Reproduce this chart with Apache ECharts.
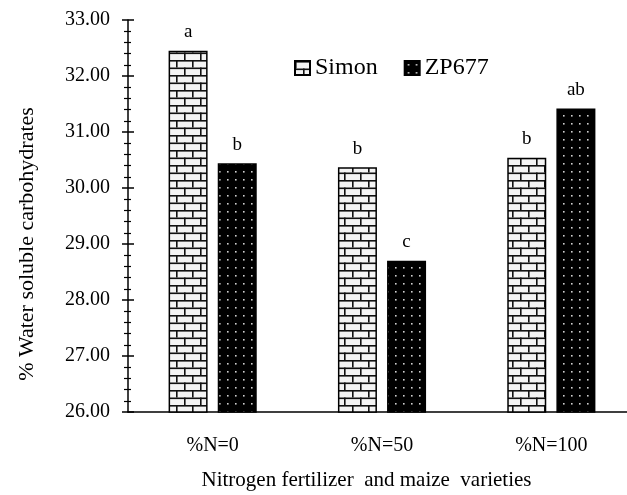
<!DOCTYPE html>
<html>
<head>
<meta charset="utf-8">
<script src="https://cdn.jsdelivr.net/npm/echarts@6/dist/echarts.min.js"></script>
<style>
html,body{margin:0;padding:0;background:#fff;}
#chart{width:627px;height:495px;}
</style>
</head>
<body>
<div id="chart"></div>
<script>
var categories = ['%N=0', '%N=50', '%N=100'];
var seriesNames = ['Simon', 'ZP677'];
var simonValues = [32.45, 30.37, 30.54];
var zpValues = [30.44, 28.70, 31.42];
var simonLetters = ['a', 'b', 'b'];
var zpLetters = ['b', 'c', 'ab'];
var yTicks = ['26.00','27.00','28.00','29.00','30.00','31.00','32.00','33.00'];

function brickPattern() {
  var c = document.createElement('canvas');
  c.width = 16; c.height = 15;
  var g = c.getContext('2d');
  g.fillStyle = '#f4f4f4';
  g.fillRect(0, 0, 16, 15);
  g.fillStyle = '#111';
  g.fillRect(0, 0, 16, 1.6);
  g.fillRect(0, 7.5, 16, 1.6);
  g.fillRect(0, 0, 1.6, 7.5);
  g.fillRect(8, 7.5, 1.6, 7.5);
  return c;
}
function dotPattern() {
  var c = document.createElement('canvas');
  c.width = 8; c.height = 8;
  var g = c.getContext('2d');
  g.fillStyle = '#000';
  g.fillRect(0, 0, 8, 8);
  g.fillStyle = '#cfcfcf';
  g.fillRect(3, 3, 1.6, 1.6);
  return c;
}

var font = 'Liberation Serif, Times New Roman, serif';
var chart = echarts.init(document.getElementById('chart'), null, {renderer: 'canvas'});

function mkSeries(name, values, letters, pat) {
  return {
    name: name,
    type: 'bar',
    data: values,
    barWidth: 39,
    barGap: '26%',
    itemStyle: {
      color: {image: pat, repeat: 'repeat'},
      borderColor: '#000',
      borderWidth: 1.5
    },
    label: {
      show: true,
      position: 'top',
      distance: 9,
      color: '#000',
      fontFamily: font,
      fontSize: 19,
      formatter: function (p) { return letters[p.dataIndex]; }
    },
    emphasis: {disabled: true}
  };
}

var yAxisCommon = {
  type: 'value',
  min: 26,
  max: 33,
  interval: 1,
  splitLine: {show: false}
};

chart.setOption({
  animation: false,
  backgroundColor: '#fff',
  grid: {left: 128, top: 20, height: 392, width: 508, outerBoundsMode: 'none'},
  legend: {
    data: seriesNames,
    left: 289,
    top: 51,
    itemWidth: 15,
    itemHeight: 14,
    itemGap: 26,
    icon: 'rect',
    textStyle: {fontFamily: font, fontSize: 24, color: '#000'}
  },
  xAxis: {
    type: 'category',
    data: categories,
    axisLine: {show: true, lineStyle: {color: '#000', width: 1.5}},
    axisTick: {show: false},
    axisLabel: {fontFamily: font, fontSize: 20, color: '#000', margin: 24},
    name: 'Nitrogen fertilizer  and maize  varieties',
    nameLocation: 'middle',
    nameGap: 58,
    nameTextStyle: {fontFamily: font, fontSize: 21, color: '#000', padding: [0, 31, 0, 0]}
  },
  yAxis: [
    Object.assign({}, yAxisCommon, {
      axisLine: {show: true, lineStyle: {color: '#000', width: 1.5}},
      axisTick: {show: true, length: 6, lineStyle: {color: '#000', width: 1.5}},
      minorTick: {show: true, splitNumber: 5, length: 4, lineStyle: {color: '#000', width: 1.2}},
      axisLabel: {
        fontFamily: font, fontSize: 20, color: '#000', margin: 18,
        formatter: function (v) { return yTicks[Math.round(v - 26)]; }
      },
      name: '% Water soluble carbohydrates',
      nameLocation: 'middle',
      nameGap: 90,
      nameRotate: 90,
      nameTextStyle: {fontFamily: font, fontSize: 22, color: '#000', padding: [0, 56, 0, 0]}
    }),
    Object.assign({}, yAxisCommon, {
      position: 'left',
      axisLine: {show: false},
      axisTick: {show: true, inside: true, length: 6, lineStyle: {color: '#000', width: 1.5}},
      minorTick: {show: true, splitNumber: 5, length: 3, lineStyle: {color: '#000', width: 1.2}},
      axisLabel: {show: false}
    })
  ],
  series: [
    mkSeries(seriesNames[0], simonValues, simonLetters, brickPattern()),
    mkSeries(seriesNames[1], zpValues, zpLetters, dotPattern())
  ]
});
</script>
</body>
</html>
